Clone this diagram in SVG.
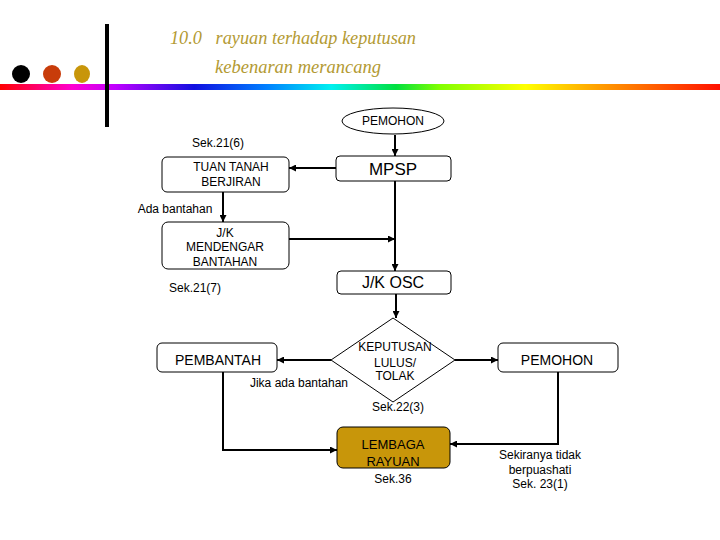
<svg xmlns="http://www.w3.org/2000/svg" width="720" height="540" viewBox="0 0 720 540">
<defs>
<linearGradient id="rainbow" x1="0" y1="0" x2="1" y2="0">
<stop offset="0" stop-color="#ff0000"/>
<stop offset="0.03" stop-color="#ff0040"/>
<stop offset="0.1" stop-color="#ff00d0"/>
<stop offset="0.16" stop-color="#c000ff"/>
<stop offset="0.27" stop-color="#1010e0"/>
<stop offset="0.37" stop-color="#0080ff"/>
<stop offset="0.46" stop-color="#00f0f0"/>
<stop offset="0.55" stop-color="#00e040"/>
<stop offset="0.61" stop-color="#80ff00"/>
<stop offset="0.73" stop-color="#ffff00"/>
<stop offset="0.83" stop-color="#ffa000"/>
<stop offset="1" stop-color="#ff1000"/>
</linearGradient>
<marker id="ah" viewBox="0 0 10 10" refX="10" refY="5" markerWidth="3.5" markerHeight="3.5" orient="auto" markerUnits="strokeWidth">
<path d="M0,0 L10,5 L0,10 z" fill="#000"/>
</marker>
</defs>
<style>
.t{font-family:"Liberation Sans",Arial,sans-serif;fill:#000;text-anchor:middle}
.box{fill:#fff;stroke:#000;stroke-width:1}
.c{fill:none;stroke:#000;stroke-width:2}
.title{font-family:"Liberation Serif","DejaVu Serif",serif;font-style:italic;fill:#b39a33;font-size:19px}
</style>
<rect width="720" height="540" fill="#fff"/>
<g id="header">
<rect x="0" y="84" width="720" height="6" fill="url(#rainbow)"/>
<rect x="105" y="24" width="4" height="103" fill="#000"/>
<ellipse cx="21" cy="74" rx="9" ry="9" fill="#000"/>
<ellipse cx="52" cy="74" rx="9" ry="9" fill="#c83c0a"/>
<ellipse cx="82" cy="74" rx="8" ry="9" fill="#c8960a"/>
<text class="title" x="170" y="44" xml:space="preserve" textLength="246" lengthAdjust="spacingAndGlyphs">10.0   rayuan terhadap keputusan</text>
<text class="title" x="215" y="73" textLength="166" lengthAdjust="spacingAndGlyphs">kebenaran merancang</text>
</g>
<g id="connectors">
<line class="c" x1="395" y1="135" x2="395" y2="156" marker-end="url(#ah)"/>
<line class="c" x1="336" y1="168" x2="289" y2="168" marker-end="url(#ah)"/>
<line class="c" x1="223" y1="192" x2="223" y2="222" marker-end="url(#ah)"/>
<line class="c" x1="289" y1="239" x2="395" y2="239" marker-end="url(#ah)"/>
<line class="c" x1="395" y1="181" x2="395" y2="271" marker-end="url(#ah)"/>
<line class="c" x1="396" y1="294" x2="396" y2="318" marker-end="url(#ah)"/>
<line class="c" x1="331" y1="360" x2="277" y2="360" marker-end="url(#ah)"/>
<line class="c" x1="455" y1="360" x2="498" y2="360" marker-end="url(#ah)"/>
<polyline class="c" points="223,372 223,450 337,450" marker-end="url(#ah)"/>
<polyline class="c" points="558,372 558,444 450,444" marker-end="url(#ah)"/>
</g>
<g id="pemohon-top">
<ellipse cx="393" cy="121" rx="51" ry="13" class="box"/>
<text class="t" x="393" y="125" font-size="12">PEMOHON</text>
</g>
<g id="mpsp">
<rect x="336" y="156" width="115" height="25" rx="4" class="box"/>
<text class="t" x="393" y="175" font-size="17">MPSP</text>
</g>
<g id="tuan-tanah">
<rect x="162" y="157" width="127" height="35" rx="5" class="box"/>
<text class="t" x="231" y="171" font-size="12">TUAN TANAH</text>
<text class="t" x="231" y="186" font-size="12">BERJIRAN</text>
</g>
<g id="jk-mendengar">
<rect x="162" y="222" width="127" height="47" rx="6" class="box"/>
<text class="t" x="225" y="237" font-size="12">J/K</text>
<text class="t" x="225" y="251" font-size="12">MENDENGAR</text>
<text class="t" x="225" y="266" font-size="12">BANTAHAN</text>
</g>
<g id="jk-osc">
<rect x="337" y="271" width="114" height="23" rx="4" class="box"/>
<text class="t" x="393" y="288" font-size="16">J/K OSC</text>
</g>
<g id="keputusan">
<polygon points="393,318 455,360 393,402 331,360" class="box"/>
<text class="t" x="395" y="351" font-size="12">KEPUTUSAN</text>
<text class="t" x="395" y="367" font-size="12">LULUS/</text>
<text class="t" x="395" y="380" font-size="12">TOLAK</text>
</g>
<g id="pembantah">
<rect x="157" y="343" width="120" height="29" rx="5" class="box"/>
<text class="t" x="218" y="365" font-size="14">PEMBANTAH</text>
</g>
<g id="pemohon-right">
<rect x="498" y="343" width="120" height="29" rx="5" class="box"/>
<text class="t" x="557" y="365" font-size="14">PEMOHON</text>
</g>
<g id="lembaga">
<rect x="337" y="427" width="113" height="41" rx="6" fill="#c8960a" stroke="#000" stroke-width="1"/>
<text class="t" x="393" y="449" font-size="13" fill="#2a1a00">LEMBAGA</text>
<text class="t" x="393" y="466" font-size="13" fill="#2a1a00">RAYUAN</text>
</g>
<g id="labels">
<text class="t" x="218" y="147" font-size="12">Sek.21(6)</text>
<text class="t" x="175" y="213" font-size="12">Ada bantahan</text>
<text class="t" x="195" y="292" font-size="12">Sek.21(7)</text>
<text class="t" x="299" y="387" font-size="12">Jika ada bantahan</text>
<text class="t" x="398" y="411" font-size="12">Sek.22(3)</text>
<text class="t" x="393" y="483" font-size="12">Sek.36</text>
<text class="t" x="540" y="459" font-size="12">Sekiranya tidak</text>
<text class="t" x="540" y="474" font-size="12">berpuashati</text>
<text class="t" x="540" y="488" font-size="12">Sek. 23(1)</text>
</g>
</svg>
